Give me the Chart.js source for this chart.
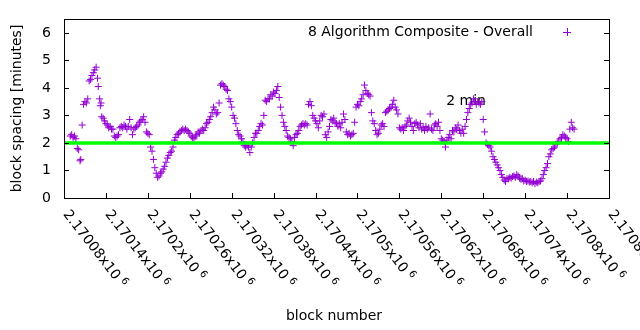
<!DOCTYPE html>
<html>
<head>
<meta charset="utf-8">
<script src="https://cdn.jsdelivr.net/npm/chart.js@4.4.1/dist/chart.umd.min.js"></script>
<style>
  html, body { margin: 0; padding: 0; background: #fff; }
  #wrap { width: 640px; height: 330px; }
</style>
</head>
<body>
<div id="wrap"><canvas id="chart" width="640" height="330"></canvas></div>
<script>
// block number vs. spacing (minutes)
const blockNumbers = [
  2170089, 2170091, 2170093, 2170095, 2170097, 2170099, 2170101, 2170103, 2170104, 2170106,
  2170108, 2170110, 2170112, 2170114, 2170116, 2170118, 2170120, 2170122, 2170124, 2170126,
  2170128, 2170129, 2170131, 2170132, 2170133, 2170134, 2170136, 2170138, 2170140, 2170142,
  2170144, 2170146, 2170148, 2170150, 2170152, 2170154, 2170156, 2170158, 2170160, 2170162,
  2170164, 2170166, 2170168, 2170170, 2170172, 2170174, 2170176, 2170178, 2170180, 2170182,
  2170184, 2170186, 2170188, 2170190, 2170192, 2170194, 2170196, 2170198, 2170200, 2170202,
  2170204, 2170206, 2170208, 2170210, 2170212, 2170214, 2170216, 2170218, 2170220, 2170222,
  2170224, 2170226, 2170228, 2170230, 2170232, 2170234, 2170236, 2170238, 2170240, 2170242,
  2170244, 2170246, 2170248, 2170250, 2170252, 2170254, 2170256, 2170258, 2170260, 2170262,
  2170264, 2170266, 2170268, 2170270, 2170272, 2170274, 2170276, 2170278, 2170280, 2170282,
  2170284, 2170286, 2170288, 2170290, 2170292, 2170294, 2170296, 2170298, 2170300, 2170302,
  2170304, 2170306, 2170308, 2170310, 2170312, 2170314, 2170316, 2170318, 2170320, 2170322,
  2170324, 2170326, 2170328, 2170330, 2170332, 2170334, 2170336, 2170338, 2170340, 2170342,
  2170344, 2170346, 2170348, 2170350, 2170352, 2170354, 2170356, 2170358, 2170360, 2170362,
  2170364, 2170366, 2170368, 2170370, 2170372, 2170374, 2170376, 2170378, 2170380, 2170382,
  2170384, 2170386, 2170388, 2170390, 2170392, 2170394, 2170396, 2170398, 2170400, 2170402,
  2170404, 2170406, 2170408, 2170410, 2170412, 2170414, 2170416, 2170418, 2170420, 2170422,
  2170424, 2170426, 2170428, 2170430, 2170432, 2170434, 2170436, 2170438, 2170440, 2170442,
  2170444, 2170446, 2170448, 2170450, 2170452, 2170454, 2170456, 2170458, 2170460, 2170462,
  2170464, 2170466, 2170468, 2170470, 2170472, 2170474, 2170476, 2170478, 2170480, 2170482,
  2170484, 2170486, 2170488, 2170490, 2170492, 2170494, 2170496, 2170498, 2170500, 2170502,
  2170504, 2170506, 2170508, 2170510, 2170512, 2170514, 2170516, 2170518, 2170520, 2170522,
  2170524, 2170526, 2170528, 2170530, 2170532, 2170534, 2170536, 2170538, 2170540, 2170542,
  2170544, 2170546, 2170548, 2170550, 2170552, 2170554, 2170556, 2170558, 2170560, 2170562,
  2170564, 2170566, 2170568, 2170570, 2170572, 2170574, 2170576, 2170578, 2170580, 2170582,
  2170584, 2170586, 2170588, 2170590, 2170592, 2170594, 2170596, 2170598, 2170600, 2170602,
  2170604, 2170606, 2170608, 2170610, 2170612, 2170614, 2170616, 2170618, 2170620, 2170622,
  2170624, 2170626, 2170628, 2170630, 2170632, 2170634, 2170636, 2170638, 2170640, 2170642,
  2170644, 2170646, 2170648, 2170650, 2170652, 2170654, 2170656, 2170658, 2170660, 2170662,
  2170664, 2170666, 2170668, 2170670, 2170672, 2170674, 2170676, 2170678, 2170680, 2170682,
  2170684, 2170686, 2170688, 2170690, 2170692, 2170694, 2170696, 2170698, 2170700, 2170702,
  2170704, 2170706, 2170708, 2170710, 2170712, 2170714, 2170716, 2170718, 2170720, 2170722,
  2170724, 2170726, 2170728, 2170730, 2170732, 2170734, 2170736, 2170738, 2170740, 2170742,
  2170744, 2170746, 2170748, 2170750, 2170752, 2170754, 2170756, 2170758, 2170760, 2170762,
  2170764, 2170766, 2170768, 2170770, 2170772, 2170774, 2170776, 2170778, 2170780, 2170782,
  2170784, 2170786, 2170788, 2170790, 2170792, 2170794, 2170796, 2170798, 2170800, 2170802,
  2170804, 2170806, 2170808, 2170810
]
const blockSpacing = [
  2.25, 2.3, 2.2, 2.25, 2.15, 1.8, 1.75, 1.35, 1.4, 2.65,
  3.4, 3.5, 3.45, 3.6, 4.25, 4.3, 4.45, 4.55, 4.65, 4.75,
  4.35, 4.05, 3.6, 3.35, 3.45, 2.95, 2.9, 2.8, 2.7, 2.65,
  2.55, 2.6, 2.5, 2.5, 2.25, 2.2, 2.25, 2.3, 2.55, 2.6,
  2.55, 2.65, 2.6, 2.5, 2.6, 2.85, 2.55, 2.3, 2.5, 2.55,
  2.6, 2.65, 2.75, 2.8, 2.85, 2.95, 2.75, 2.4, 2.35, 2.3,
  1.85, 1.7, 1.4, 1.1, 0.9, 0.75, 0.8, 0.9, 0.95, 1.05,
  1.15, 1.3, 1.45, 1.55, 1.65, 1.7, 1.85, 2.1, 2.2, 2.3,
  2.35, 2.4, 2.45, 2.5, 2.45, 2.5, 2.45, 2.4, 2.35, 2.25,
  2.2, 2.15, 2.25, 2.3, 2.4, 2.35, 2.45, 2.5, 2.45, 2.55,
  2.7, 2.75, 2.85, 2.95, 3.1, 3.3, 3.2, 3.05, 3.1, 3.45,
  4.1, 4.15, 4.1, 4.05, 3.95, 3.9, 3.6, 3.5, 3.3, 3.0,
  2.9, 2.7, 2.45, 2.3, 2.25, 2.15, 2.05, 1.9, 1.85, 1.9,
  1.85, 1.65, 1.85, 2.0, 2.2, 2.35, 2.35, 2.45, 2.6, 2.7,
  2.65, 3.0, 3.55, 3.5, 3.6, 3.6, 3.75, 3.7, 3.85, 3.8,
  3.9, 4.05, 3.65, 3.3, 3.0, 2.75, 2.6, 2.45, 2.25, 2.2,
  2.15, 2.05, 1.9, 2.2, 2.3, 2.35, 2.45, 2.6, 2.65, 2.7,
  2.65, 2.7, 2.65, 3.4, 3.5, 3.35, 3.0, 2.9, 2.8, 2.7,
  2.55, 2.8, 3.0, 2.95, 3.05, 2.3, 2.2, 2.4, 2.6, 2.85,
  2.8, 2.9, 2.75, 2.7, 2.6, 2.7, 2.55, 2.75, 3.05, 2.85,
  2.4, 2.3, 2.35, 2.25, 2.3, 2.35, 2.75, 3.3, 3.4, 3.35,
  3.5, 3.6, 3.75, 4.1, 3.9, 3.8, 3.75, 3.7, 3.1, 2.8,
  2.7, 2.45, 2.3, 2.35, 2.5, 2.65, 2.7, 2.6, 3.1, 3.15,
  3.2, 3.25, 3.3, 3.4, 3.55, 3.3, 3.2, 3.05, 2.55, 2.5,
  2.55, 2.45, 2.6, 2.65, 2.8, 2.9, 2.75, 2.6, 2.45, 2.7,
  2.75, 2.65, 2.55, 2.7, 2.5, 2.55, 2.45, 2.6, 2.5, 2.55,
  3.05, 2.5, 2.45, 2.65, 2.7, 2.6, 2.75, 2.45, 2.15, 2.1,
  2.05, 1.85, 2.1, 2.2, 2.3, 2.15, 2.45, 2.4, 2.55, 2.5,
  2.65, 2.45, 2.35, 2.5, 2.35, 2.6, 2.85, 3.1, 3.25, 3.4,
  3.45, 3.6, 3.5, 3.4, 3.5, 3.45, 3.4, 3.5, 2.85, 2.4,
  2.0, 1.95, 1.9, 1.85, 1.7, 1.5, 1.4, 1.3, 1.2, 1.1,
  1.0, 0.85, 0.75, 0.65, 0.6, 0.7, 0.7, 0.75, 0.72, 0.78,
  0.8, 0.75, 0.85, 0.8, 0.72, 0.68, 0.7, 0.62, 0.65, 0.6,
  0.62, 0.58, 0.6, 0.55, 0.6, 0.52, 0.58, 0.55, 0.6, 0.62,
  0.7, 0.85, 1.0, 1.1, 1.25, 1.5, 1.6, 1.75, 1.8, 1.85,
  1.95, 2.0, 2.05, 2.15, 2.2, 2.3, 2.25, 2.2, 2.15, 2.05,
  2.5, 2.75, 2.55, 2.5
]

const xTickBlocks = [2170080, 2170140, 2170200, 2170260, 2170320, 2170380, 2170440,
  2170500, 2170560, 2170620, 2170680, 2170740, 2170800, 2170860]
const xTickLabels = ['2.17008', '2.17014', '2.1702', '2.17026', '2.17032', '2.17038', '2.17044',
  '2.1705', '2.17056', '2.17062', '2.17068', '2.17074', '2.1708', '2.17086']
const xTickExponent = '6'
const yTicks = [0, 1, 2, 3, 4, 5, 6]

const seriesName = '8 Algorithm Composite - Overall'
const targetMinutes = 2
const targetLabel = '2 min'

const FONT = '"DejaVu Sans", sans-serif'
const PURPLE = '#9400d3'

const gnuplotLook = {
  id: 'gnuplotLook',
  beforeDatasetsDraw(chart) {
    let ctx = chart.ctx
    let x = chart.scales.x
    let y = chart.scales.y
    ctx.save()
    ctx.fillStyle = '#000'
    ctx.font = '14px ' + FONT
    ctx.textAlign = 'left'
    ctx.textBaseline = 'middle'
    ctx.fillText(targetLabel, x.getPixelForValue(2170627), y.getPixelForValue(3.52))
    ctx.restore()
  },
  afterDraw(chart) {
    let ctx = chart.ctx
    let a = chart.chartArea
    let x = chart.scales.x
    let y = chart.scales.y
    ctx.save()
    ctx.strokeStyle = '#000'
    ctx.fillStyle = '#000'
    ctx.lineWidth = 1

    // border
    ctx.strokeRect(a.left + 0.5, a.top + 0.5, a.right - a.left, a.bottom - a.top)

    // y ticks (left + mirrored right) and labels
    ctx.font = '14px ' + FONT
    ctx.textAlign = 'right'
    ctx.textBaseline = 'middle'
    yTicks.forEach(v => {
      let py = Math.round(y.getPixelForValue(v)) + 0.5
      ctx.beginPath()
      ctx.moveTo(a.left, py); ctx.lineTo(a.left + 5, py)
      ctx.moveTo(a.right, py); ctx.lineTo(a.right - 5, py)
      ctx.stroke()
      ctx.fillText(String(v), a.left - 13, py)
    })

    // x ticks and rotated labels
    xTickBlocks.forEach((v, i) => {
      let px = Math.round(x.getPixelForValue(v)) + 0.5
      ctx.beginPath()
      ctx.moveTo(px, a.bottom); ctx.lineTo(px, a.bottom - 5)
      ctx.stroke()
      ctx.save()
      ctx.translate(px + 1, a.bottom + 14)
      ctx.rotate(52 * Math.PI / 180)
      ctx.textAlign = 'left'
      ctx.textBaseline = 'middle'
      ctx.font = '14px ' + FONT
      let txt = xTickLabels[i] + 'x10'
      ctx.fillText(txt, 0, 0)
      let w = ctx.measureText(txt).width
      ctx.font = '10px ' + FONT
      ctx.fillText(xTickExponent, w + 4, -4)
      ctx.restore()
    })

    // axis titles
    ctx.font = '14px ' + FONT
    ctx.textAlign = 'center'
    ctx.textBaseline = 'middle'
    ctx.fillText('block number', 334, 316)
    ctx.save()
    ctx.translate(17, (a.top + a.bottom) / 2)
    ctx.rotate(-Math.PI / 2)
    ctx.fillText('block spacing [minutes]', 0, 0)
    ctx.restore()

    // key
    ctx.textAlign = 'right'
    ctx.fillText(seriesName, 533, 32)
    ctx.strokeStyle = PURPLE
    ctx.beginPath()
    ctx.moveTo(563, 32.5); ctx.lineTo(571, 32.5)
    ctx.moveTo(567.5, 28); ctx.lineTo(567.5, 36)
    ctx.stroke()
    ctx.restore()
  }
}

let points = blockNumbers.map((b, i) => ({ x: b, y: blockSpacing[i] }))

let ctx = document.getElementById('chart').getContext('2d')
let myChart = new Chart(ctx, {
  type: 'scatter',
  data: {
    datasets: [{
      label: seriesName,
      data: points,
      pointStyle: 'cross',
      pointRadius: 3.5,
      pointBorderWidth: 1,
      borderColor: PURPLE,
      backgroundColor: PURPLE,
      order: 1
    }, {
      type: 'line',
      label: targetLabel,
      data: [{ x: xTickBlocks[0], y: targetMinutes }, { x: xTickBlocks[xTickBlocks.length - 1], y: targetMinutes }],
      borderColor: '#00ff00',
      borderWidth: 3.5,
      pointRadius: 0,
      fill: false,
      order: 0
    }]
  },
  options: {
    responsive: false,
    animation: false,
    events: [],
    layout: { padding: { left: 64, top: 19, right: 31, bottom: 132 } },
    scales: {
      x: {
        type: 'linear',
        display: false,
        min: xTickBlocks[0],
        max: xTickBlocks[xTickBlocks.length - 1]
      },
      y: {
        type: 'linear',
        display: false,
        min: 0,
        max: 6.5
      }
    },
    plugins: {
      legend: { display: false },
      tooltip: { enabled: false }
    }
  },
  plugins: [gnuplotLook]
})
</script>
</body>
</html>
